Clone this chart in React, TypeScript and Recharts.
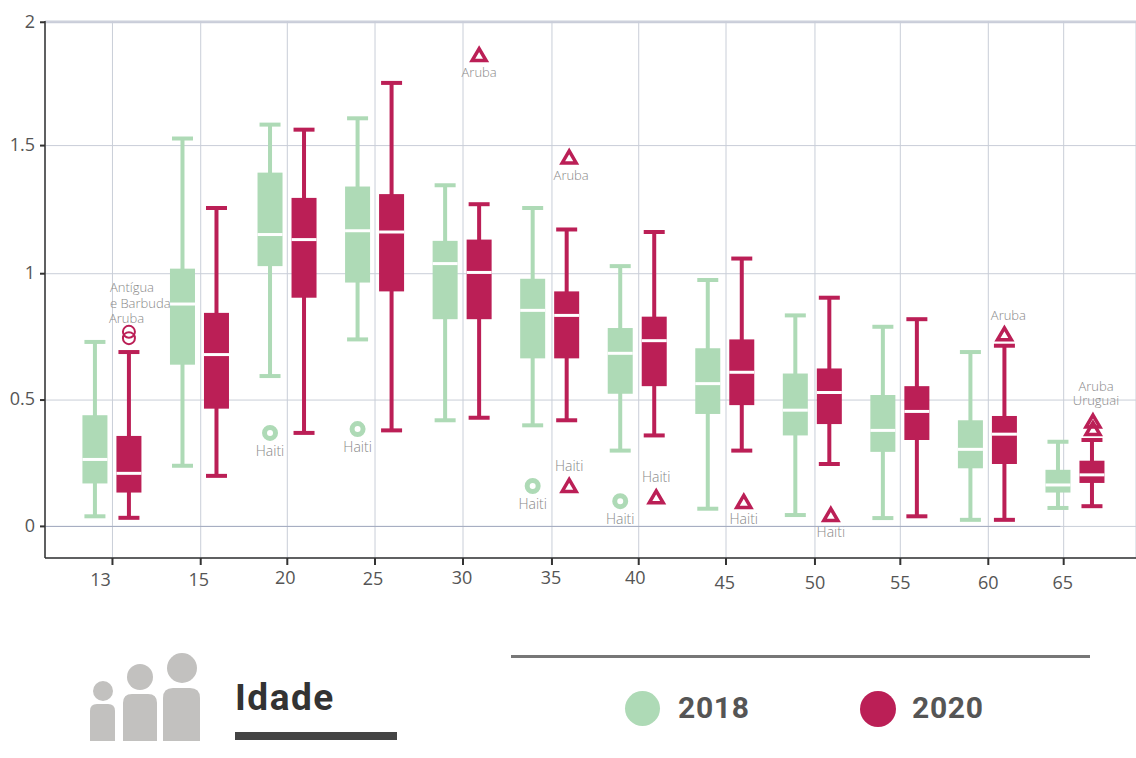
import React from "react";
import {
  ComposedChart,
  Bar,
  XAxis,
  YAxis,
  CartesianGrid,
  ReferenceLine,
} from "recharts";

const categories = ["13", "15", "20", "25", "30", "35", "40", "45", "50", "55", "60", "65"];
// The source axis is hand placed: ticks do not sit exactly on their groups
const xTickSpots = [0.003, 1.011, 2.0, 3.002, 4.007, 5.023, 6.014, 7.011, 8.027, 9.002, 10.007, 10.868];
const yTickSpots = [0, 0.5, 1, 1.507, 1.995];
const yTickLabels = ["0", "0.5", "1", "1.5", "2"];

const low2018 = [0.04, 0.24, 0.595, 0.74, 0.42, 0.4, 0.3, 0.07, 0.045, 0.033, 0.026, 0.073];
const q1s2018 = [0.17, 0.64, 1.03, 0.965, 0.82, 0.665, 0.525, 0.445, 0.36, 0.295, 0.23, 0.134];
const med2018 = [0.265, 0.88, 1.155, 1.17, 1.04, 0.855, 0.685, 0.565, 0.46, 0.38, 0.305, 0.164];
const q3s2018 = [0.44, 1.02, 1.4, 1.345, 1.13, 0.98, 0.785, 0.705, 0.605, 0.52, 0.42, 0.224];
const high2018 = [0.73, 1.535, 1.59, 1.615, 1.35, 1.26, 1.03, 0.975, 0.835, 0.79, 0.69, 0.335];

const low2020 = [0.034, 0.2, 0.37, 0.38, 0.43, 0.42, 0.36, 0.3, 0.247, 0.04, 0.026, 0.08];
const q1s2020 = [0.134, 0.466, 0.905, 0.93, 0.82, 0.665, 0.555, 0.48, 0.405, 0.342, 0.247, 0.172];
const med2020 = [0.21, 0.68, 1.135, 1.165, 1.005, 0.835, 0.735, 0.61, 0.53, 0.455, 0.365, 0.204];
const q3s2020 = [0.358, 0.845, 1.3, 1.315, 1.135, 0.93, 0.83, 0.74, 0.625, 0.555, 0.437, 0.26];
const high2020 = [0.69, 1.26, 1.57, 1.755, 1.275, 1.175, 1.165, 1.06, 0.905, 0.82, 0.715, 0.342];

const outliers2018 = [
  { age: "20", value: 0.37, country: "Haiti" },
  { age: "25", value: 0.385, country: "Haiti" },
  { age: "35", value: 0.16, country: "Haiti" },
  { age: "40", value: 0.1, country: "Haiti" },
];
const outliers2020 = [
  { age: "13", value: 0.77, country: "Antígua e Barbuda" },
  { age: "13", value: 0.745, country: "Aruba" },
  { age: "30", value: 1.865, country: "Aruba" },
  { age: "35", value: 1.46, country: "Aruba" },
  { age: "35", value: 0.16, country: "Haiti" },
  { age: "40", value: 0.115, country: "Haiti" },
  { age: "45", value: 0.097, country: "Haiti" },
  { age: "50", value: 0.045, country: "Haiti" },
  { age: "60", value: 0.76, country: "Aruba" },
  { age: "65", value: 0.415, country: "Aruba" },
  { age: "65", value: 0.385, country: "Uruguai" },
];

// Hand placed marker and label offsets, as in the source chart
const markerShift: Record<string, number> = {
  "35Aruba": 2.5, "35Haiti": 2.5, "40Haiti": 2, "45Haiti": 2, "50Haiti": 1.5, "65Aruba": 1, "65Uruguai": 1,
};
const labelShift: Record<string, number> = { "35Aruba": 2, "60Aruba": 4, "65Aruba": 3, "65Uruguai": 3 };
const labelLift: Record<string, number> = {
  "35Aruba": 23, "35Haiti": -15, "40Haiti": -15, "60Aruba": -14, "65Aruba": -31, "65Uruguai": -24,
};
const xLabelDx = [-12, -2, -2, -2, -1, -1, -3.5, -1.3, 0, 0, 0, -1];
const xLabelDy = [0, 0, -2, -1, -2, -2, -2, 3, 3, 3, 3, 3];

const GREEN = "#aedab6";
const RED = "#bb1f56";

const rows = categories.map((age, i) => ({
  x: i,
  age,
  low2018: low2018[i],
  q1s2018: q1s2018[i],
  med2018: med2018[i],
  q3s2018: q3s2018[i],
  high2018: high2018[i],
  low2020: low2020[i],
  q1s2020: q1s2020[i],
  med2020: med2020[i],
  q3s2020: q3s2020[i],
  high2020: high2020[i],
}));

const labelStyle = (country: string) => ({
  fontFamily: "'Open Sans', sans-serif",
  fontWeight: 300,
  fontSize: country === "Haiti" ? 14 : 13,
  fill: "#888",
});

// The bar spans low..high, so its rectangle gives the y scale for the rest of the box
const boxShape = (year: string, color: string, outliers: typeof outliers2018) => (props: any) => {
  const { x, y, width, height, payload } = props;
  const low = payload["low" + year];
  const high = payload["high" + year];
  const yOf = (v: number) => y + ((high - v) * height) / (high - low);
  const cx = x + width / 2;
  const q1 = yOf(payload["q1s" + year]);
  const q3 = yOf(payload["q3s" + year]);
  const med = yOf(payload["med" + year]);
  const own = outliers.filter((o) => o.age === payload.age);

  return (
    <g>
      <line x1={cx} x2={cx} y1={y} y2={y + height} stroke={color} strokeWidth={4} />
      <line x1={cx - 10.5} x2={cx + 10.5} y1={y} y2={y} stroke={color} strokeWidth={4} />
      <line x1={cx - 10.5} x2={cx + 10.5} y1={y + height} y2={y + height} stroke={color} strokeWidth={4} />
      <rect x={x} y={q3} width={width} height={q1 - q3} fill={color} />
      <line x1={x} x2={x + width} y1={med} y2={med} stroke="#fff" strokeWidth={3} />
      {own.map((o) => {
        const my = yOf(o.value);
        const key = o.age + o.country;
        if (year === "2018") {
          return (
            <g key={key}>
              <circle cx={cx} cy={my} r={5.5} fill="#fff" stroke={color} strokeWidth={5} />
              <text x={cx} y={my + 23} textAnchor="middle" style={labelStyle(o.country)}>{o.country}</text>
            </g>
          );
        }
        if (o.age === "13") {
          // the two labels of this group are stacked, left aligned
          return (
            <g key={key}>
              <circle cx={cx} cy={my} r={6} fill="none" stroke={color} strokeWidth={2} />
              {o.country === "Aruba" ? (
                <text x={cx - 20} y={my - 15} style={labelStyle(o.country)}>Aruba</text>
              ) : (
                <text style={labelStyle(o.country)}>
                  <tspan x={cx - 19} y={my - 40}>Antígua</tspan>
                  <tspan x={cx - 19} y={my - 24}>e Barbuda</tspan>
                </text>
              )}
            </g>
          );
        }
        const mx = cx + (markerShift[key] ?? 0);
        const labelX = mx + (labelShift[key] ?? 0);
        const labelY = my + (labelLift[key] ?? 22);
        return (
          <g key={key}>
            <path
              d={`M${mx} ${my - 6.5}L${mx + 7} ${my + 5.5}L${mx - 7} ${my + 5.5}Z`}
              fill="none"
              stroke={color}
              strokeWidth={3.5}
            />
            <text x={labelX} y={labelY} textAnchor="middle" style={labelStyle(o.country)}>{o.country}</text>
          </g>
        );
      })}
    </g>
  );
};

const renderXTick = (props: any) => {
  const { x, y, index } = props;
  return (
    <text
      x={x + xLabelDx[index]}
      y={y + 19 + xLabelDy[index]}
      textAnchor="middle"
      fill="#555"
      style={{ fontFamily: "'Open Sans', sans-serif", fontSize: 18 }}
    >
      {categories[index]}
    </text>
  );
};

const People = () => (
  <svg width={120} height={100} style={{ position: "absolute", left: 85, top: 648 }}>
    <g fill="#c2c1bf">
      <circle cx={18} cy={43} r={10} />
      <path d="M5 93V63q0-7 7-7h11q7 0 7 7v30Z" />
      <circle cx={55} cy={29} r={13} />
      <path d="M38 93V55q0-9 9-9h16q9 0 9 9v38Z" />
      <circle cx={97} cy={20} r={15} />
      <path d="M78 93V50q0-10 10-10h17q10 0 10 10v43Z" />
    </g>
  </svg>
);

const legendText: React.CSSProperties = {
  position: "absolute",
  top: 690,
  fontFamily: "Roboto, sans-serif",
  fontWeight: 700,
  fontSize: 30,
  lineHeight: "36px",
  letterSpacing: 0.7,
  color: "#555",
};

const App = () => {
  return (
    <div style={{ position: "absolute", left: 0, top: 0, width: 1136, height: 758, background: "#fff", overflow: "hidden" }}>
      <ComposedChart
        width={1136}
        height={598}
        data={rows}
        barSize={25}
        barGap={9}
        margin={{ top: 21, right: 0, bottom: 0, left: 0 }}
      >
        <CartesianGrid stroke="#c9ced8" strokeWidth={1} />
        <XAxis
          dataKey="x"
          type="number"
          domain={[-0.7676, 11.694]}
          ticks={xTickSpots}
          interval={0}
          height={40}
          stroke="#333"
          strokeWidth={1.5}
          tickSize={7}
          tickLine={{ strokeWidth: 2 }}
          tick={renderXTick}
          allowDataOverflow
        />
        <YAxis
          type="number"
          domain={[-0.125, 2]}
          ticks={yTickSpots}
          tickFormatter={(v: number) => yTickLabels[yTickSpots.indexOf(v)]}
          interval={0}
          width={45}
          stroke="#333"
          strokeWidth={1.5}
          tickSize={5}
          tickMargin={5}
          tickLine={{ strokeWidth: 2 }}
          tick={{ fill: "#555", fontSize: 18, dy: -1, fontFamily: "'Open Sans', sans-serif" }}
          allowDataOverflow
        />
        <ReferenceLine y={1.995} stroke="#c9cdd9" strokeWidth={2} />
        <ReferenceLine
          segment={[{ x: -0.7676, y: 0 }, { x: 10.83, y: 0 }]}
          stroke="#a3abc0"
          strokeWidth={1}
        />
        <Bar
          dataKey={(d: any) => [d.low2018, d.high2018]}
          name="2018"
          fill={GREEN}
          shape={boxShape("2018", GREEN, outliers2018)}
          isAnimationActive={false}
        />
        <Bar
          dataKey={(d: any) => [d.low2020, d.high2020]}
          name="2020"
          fill={RED}
          shape={boxShape("2020", RED, outliers2020)}
          isAnimationActive={false}
        />
      </ComposedChart>

      <People />
      <div style={{ position: "absolute", left: 235, top: 676, fontFamily: "Roboto, sans-serif", fontWeight: 700, fontSize: 37, lineHeight: "44px", letterSpacing: 1.5, color: "#333" }}>
        Idade
      </div>
      <div style={{ position: "absolute", left: 235, top: 732, width: 162, height: 8, background: "#444" }} />
      <div style={{ position: "absolute", left: 511, top: 655, width: 579, height: 3, background: "#777" }} />
      <div style={{ position: "absolute", left: 625, top: 691, width: 35, height: 35, borderRadius: "50%", background: GREEN }} />
      <div style={{ ...legendText, left: 678 }}>2018</div>
      <div style={{ position: "absolute", left: 860, top: 691, width: 36, height: 36, borderRadius: "50%", background: RED }} />
      <div style={{ ...legendText, left: 912 }}>2020</div>
    </div>
  );
};

export default App;
